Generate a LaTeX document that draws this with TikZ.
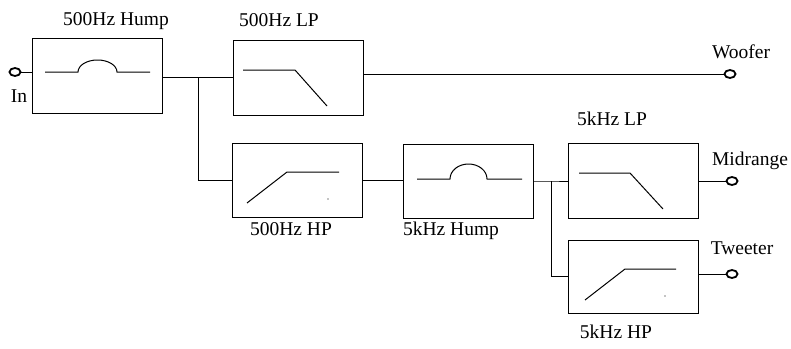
\documentclass[tikz,border=0pt]{standalone}
\usepackage{fontspec}
\setmainfont{Liberation Serif}
\usetikzlibrary{shapes.geometric}
\begin{document}
\begin{tikzpicture}[x=1pt,y=-1pt,line width=1pt,
  filterbox/.style={draw,line width=1pt,minimum width=130pt,minimum height=75pt,inner sep=0pt},
  term/.style={draw,ellipse,line width=1.8pt,minimum width=11pt,minimum height=8pt,inner sep=0pt},
  lbl/.style={anchor=base,inner sep=0pt,font=\fontsize{19.5}{22}\selectfont},
  wire/.style={line width=1pt}]
\useasboundingbox (0,0) rectangle (791,348);
% boxes
\node[filterbox] (b1) at (97,75.5) {};
\node[filterbox] (b2) at (298,77.5) {};
\node[filterbox,minimum height=74pt] (b3) at (297,180) {};
\node[filterbox,minimum height=74pt] (b4) at (468,181) {};
\node[filterbox] (b5) at (633,181) {};
\node[filterbox,minimum height=73pt] (b6) at (633,276.5) {};
% terminals
\node[term] (tin) at (15,72) {};
\node[term] (tw) at (730,74) {};
\node[term] (tm) at (732,181) {};
\node[term] (tt) at (732,274) {};
% labels
\node[lbl] (l1) at (116,25) {500Hz Hump};
\node[lbl] (l2) at (279,26) {500Hz LP};
\node[lbl] (l3) at (291,235) {500Hz HP};
\node[lbl] (l4) at (451,235) {5kHz Hump};
\node[lbl] (l5) at (612,125) {5kHz LP};
\node[lbl] (l6) at (616,338) {5kHz HP};
\node[lbl] (lw) at (741,58) {Woofer};
\node[lbl] (lm) at (750,165) {Midrange};
\node[lbl] (lt) at (742,254) {Tweeter};
\node[lbl] (lin) at (19,102) {In};
% junctions
\coordinate (j1) at (198,77.5);
\coordinate (j2) at (551,181);
% wires
\draw[wire] (tin) -- (tin -| b1.west);
\draw[wire] (b1.east |- j1) -- (j1) -- (b2.west);
\draw[wire] (j1) |- (b3.west);
\draw[wire] (b2.east |- tw) -- (tw);
\draw[wire] (b3.east) -- (b3.east -| b4.west);
\draw[wire] (b4.east |- j2) -- (j2) -- (b5.west);
\draw[wire] (j2) |- (b6.west);
\draw[wire] (b5.east |- tm) -- (tm);
\draw[wire] (b6.east |- tt) -- (tt);
% symbols: humps
\draw[wire] (45,72) -- (78,72) arc[start angle=180,end angle=360,x radius=19.5,y radius=12] -- (150,72);
\draw[wire] (417,179) -- (450,179) arc[start angle=180,end angle=360,x radius=18.5,y radius=15] -- (522,179);
% low pass
\draw[wire] (243,70) -- (295,70) -- (327,106);
\draw[wire] (579,173) -- (630,173) -- (663,209);
% high pass
\draw[wire] (247,203) -- (287,172) -- (339,172);
\fill (328,199) circle (0.6);
\draw[wire] (585,300) -- (625,269) -- (676,269);
\fill (665,296) circle (0.6);
\end{tikzpicture}
\end{document}
